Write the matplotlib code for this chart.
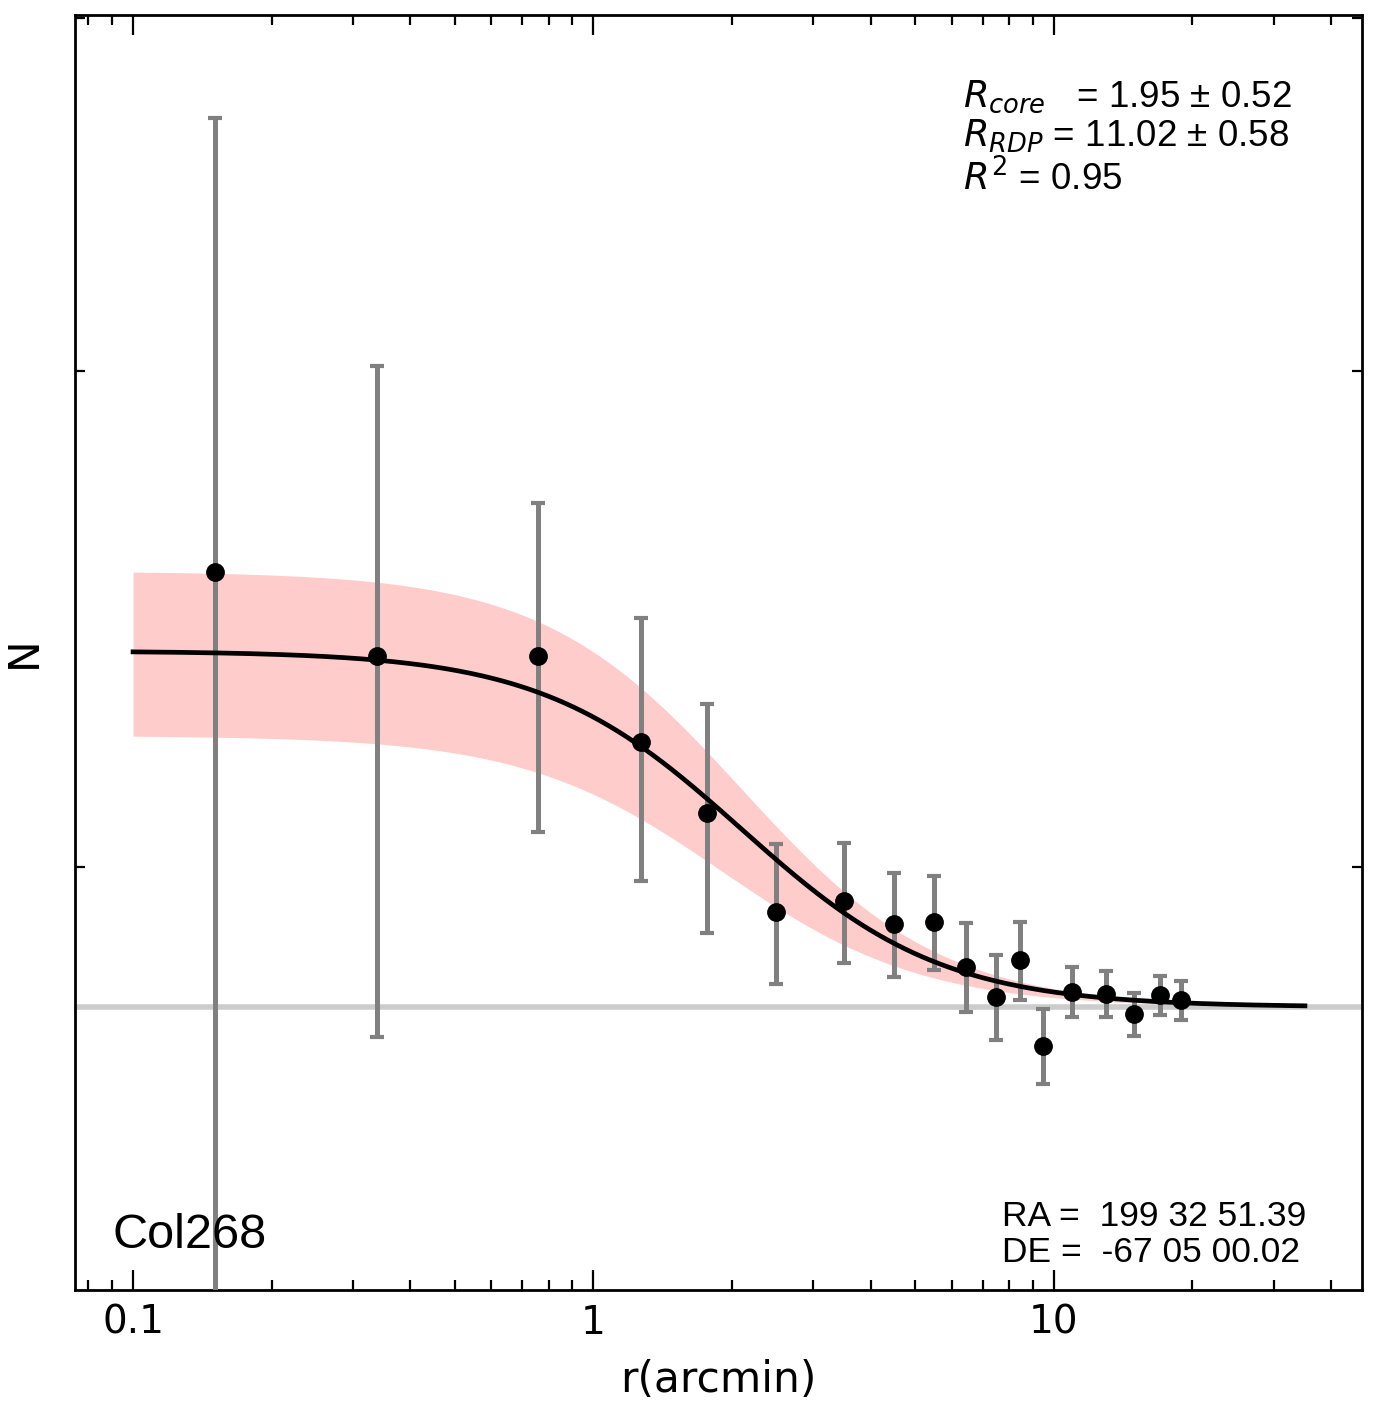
import numpy as np
import matplotlib
matplotlib.use("Agg")
import matplotlib.pyplot as plt
from matplotlib.ticker import NullFormatter, FixedLocator

# ---- data ----
radius = [0.151, 0.339, 0.758, 1.268, 1.764, 2.49, 3.50, 4.49, 5.49, 6.44,
          7.48, 8.43, 9.46, 10.94, 12.97, 14.93, 16.99, 18.87]
density = [25.45, 23.76, 23.76, 22.15, 20.90, 19.28, 19.45, 19.09, 19.12, 18.44,
           17.99, 18.54, 17.28, 18.06, 18.03, 17.74, 18.01, 17.94]
density_err = [11.43, 6.35, 3.17, 2.37, 1.95, 1.10, 0.95, 0.81, 0.73, 0.67,
               0.62, 0.59, 0.53, 0.37, 0.34, 0.31, 0.29, 0.28]

# King profile fit parameters
f_bg = 17.84
f_0 = 6.02
r_core = 1.95
f_0_upper, r_core_upper = 7.63, 1.92
f_0_lower, r_core_lower = 4.43, 1.80
r_model_min, r_model_max = 0.1, 35.1

cluster_name = "Col268"
fit_text = "$R_{core}$   = 1.95 \u00b1 0.52\n$R_{RDP}$ = 11.02 \u00b1 0.58\n$R^2$ = 0.95"
coord_text = "RA =  199 32 51.39\nDE =  -67 05 00.02"
xtick_vals = [0.1, 1, 10]
xtick_labels = ["0.1", "1", "10"]
ytick_vals = [20, 30, 40]


def king(r, f0, rc, bg):
    return bg + f0 / (1.0 + (r / rc) ** 2)


r_model = np.logspace(np.log10(r_model_min), np.log10(r_model_max), 400)

fig = plt.figure(figsize=(13.8, 14.06), dpi=100)
ax = fig.add_axes([75 / 1380, 1 - 1290 / 1406, (1362 - 75) / 1380, (1290 - 15) / 1406])

ax.set_xscale("log")
ax.set_yscale("log")
ax.set_xlim(0.0748, 46.7)
ax.set_ylim(14.16, 40.11)

ax.axhline(f_bg, color="#cccccc", lw=4, zorder=1)
ax.fill_between(r_model,
                king(r_model, f_0_lower, r_core_lower, f_bg),
                king(r_model, f_0_upper, r_core_upper, f_bg),
                color="red", alpha=0.2, lw=0, zorder=2)
ax.errorbar(radius, density, yerr=density_err, fmt="none", ecolor="gray",
            elinewidth=3.6, capsize=5, capthick=3, zorder=3)
ax.plot(r_model, king(r_model, f_0, r_core, f_bg), color="black", lw=3.4, zorder=4)
ax.plot(radius, density, "o", color="black", ms=12.5, zorder=5)

# ticks
ax.xaxis.set_major_locator(FixedLocator(xtick_vals))
ax.set_xticklabels(xtick_labels)
ax.yaxis.set_major_locator(FixedLocator([]))
ax.yaxis.set_minor_locator(FixedLocator(ytick_vals))
ax.yaxis.set_major_formatter(NullFormatter())
ax.yaxis.set_minor_formatter(NullFormatter())
ax.tick_params(which="both", direction="in", top=True, right=True, width=1.6)
ax.tick_params(which="major", length=14.5)
ax.tick_params(which="minor", length=7)
ax.tick_params(axis="x", which="major", labelsize=28, pad=10)
for s in ax.spines.values():
    s.set_linewidth(2)

ax.set_xlabel("r(arcmin)", fontsize=30.5, labelpad=12)
ax.set_ylabel("N", fontsize=30.5, labelpad=18)

ax.text(113 / 1380, 1 - 1235 / 1406, cluster_name, transform=fig.transFigure,
        fontsize=35, family="Liberation Sans", va="center", ha="left")
ax.text(963 / 1380, 1 - 78 / 1406, fit_text, transform=fig.transFigure,
        fontsize=26.5, family="Liberation Sans", va="top", ha="left", linespacing=1.12)
ax.text(1002 / 1380, 1 - 1200 / 1406, coord_text, transform=fig.transFigure,
        fontsize=25.5, family="Liberation Sans", va="top", ha="left", linespacing=1.12)

fig.savefig("out.png", dpi=100)
